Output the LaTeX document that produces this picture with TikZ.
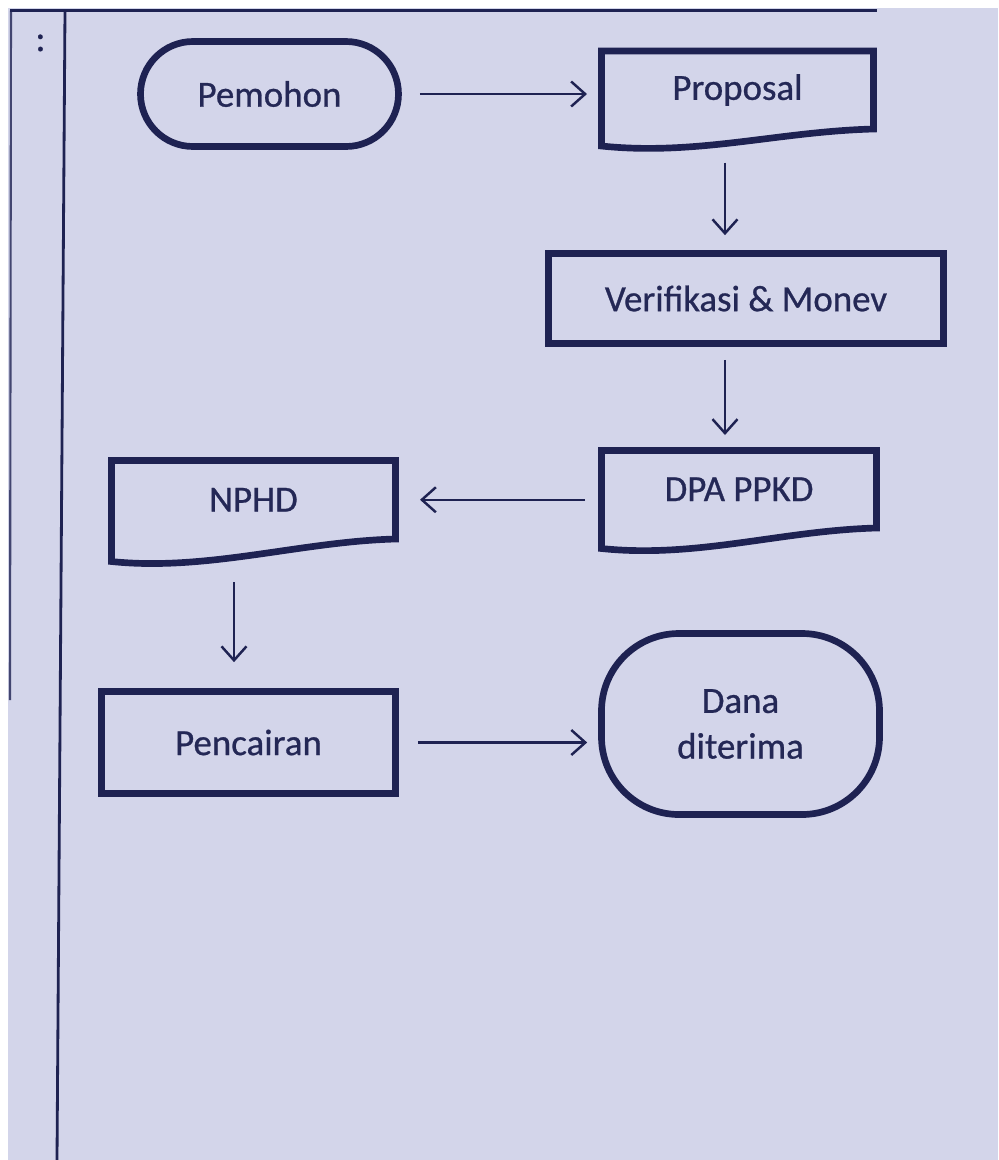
\documentclass[tikz,border=0pt]{standalone}
\usepackage{fontspec}
\setmainfont[FakeBold=0.7]{Carlito}
\usepackage{xcolor}
\usetikzlibrary{arrows.meta, calc}
\definecolor{paper}{RGB}{211,213,234}
\definecolor{ink}{RGB}{30,34,82}
\definecolor{textink}{RGB}{36,40,86}

\begin{document}
\begin{tikzpicture}[>={Straight Barb[length=2.8mm,width=5mm]}, font=\fontsize{21}{26}\selectfont]

	\tikzstyle{box} = [draw=ink, line width=3.8pt, rectangle, text=textink, inner sep=0pt, align=center]
	
	\tikzstyle{terminal} = [box, rounded corners=1cm]
	
	\tikzstyle{doc} = [box, draw=none, outer sep=0pt]
	
	\tikzstyle{line} = [draw=ink, ->, line width=1.4pt]
	
	\tikzstyle{rule} = [draw=ink, line width=1.6pt]
	
	% page and margin lines
	\useasboundingbox (0,0) rectangle (19.96,-23.2);
	\fill[white] (0,0) rectangle (19.96,-23.2);
	\fill[paper] (0.16,-0.16) rectangle (19.96,-23.2);
	\draw[rule, line width=1.2pt] (0.2,-0.21) -- (17.54,-0.21);
	\draw[rule, line width=1.2pt, draw opacity=0.8] (0.22,-0.21) -- (0.2,-14);
	\draw[rule] (1.3,-0.21) -- (1.14,-23.2);
	\node[text=ink, anchor=base] (colon) at (0.81,-1.02) {:};
	
	\node[terminal, minimum width=5.16cm, minimum height=2.1cm, rounded corners=1.05cm] (pemohon) at (5.39,-1.88) {Pemohon};
	\node[doc, minimum width=5.44cm, minimum height=1.56cm] (proposal) at (14.75,-1.8) {Proposal};
	\node[box, minimum width=7.9cm, minimum height=1.8cm] (verif) at (14.92,-5.97) {Verifikasi \& Monev};
	\node[doc, minimum width=5.5cm, minimum height=1.55cm] (dpa) at (14.78,-9.785) {DPA PPKD};
	\node[doc, minimum width=5.68cm, minimum height=1.57cm] (nphd) at (5.07,-9.995) {NPHD};
	\node[box, minimum width=5.88cm, minimum height=2.04cm] (pencairan) at (4.97,-14.85) {Pencairan};
	\node[terminal, minimum width=5.56cm, minimum height=3.62cm, rounded corners=1.55cm] (dana) at (14.81,-14.48) {Dana\\diterima};
	
	% wavy bottom of the document boxes
	\foreach \n/\drop in {proposal/0.34, dpa/0.41, nphd/0.45}
		\draw[ink, line width=3.8pt] (\n.north west) -- (\n.north east) -- (\n.south east) .. controls ($(\n.south east)+(-1.9,-0.05)$) and ($(\n.south west)+(1.9,-\drop-0.2)$) .. ($(\n.south west)+(0,-\drop)$) -- cycle;
	
	\coordinate (prop out) at ($(proposal.south)+(-0.25,0)$);
	\coordinate (verif out) at ($(verif.south)+(-0.42,0)$);
	\coordinate (nphd out) at ($(nphd.south)+(-0.39,0)$);
	
	\draw [line, shorten <=0.36cm, shorten >=0.29cm] (pemohon.east) -- (pemohon.east -| proposal.west);
	\draw [line, shorten <=0.67cm, shorten >=0.3cm] (prop out) -- (prop out |- verif.north);
	\draw [line, shorten <=0.26cm, shorten >=0.31cm] (verif out) -- (verif out |- dpa.north);
	\draw [line, shorten <=0.33cm, shorten >=0.49cm] (dpa.west |- nphd.east) -- (nphd.east);
	\draw [line, shorten <=0.86cm, shorten >=0.52cm] (nphd out) -- (nphd out |- pencairan.north);
	\draw [line, shorten <=0.38cm, shorten >=0.22cm] (pencairan.east) -- (pencairan.east -| dana.west);
	
\end{tikzpicture}
\end{document}
